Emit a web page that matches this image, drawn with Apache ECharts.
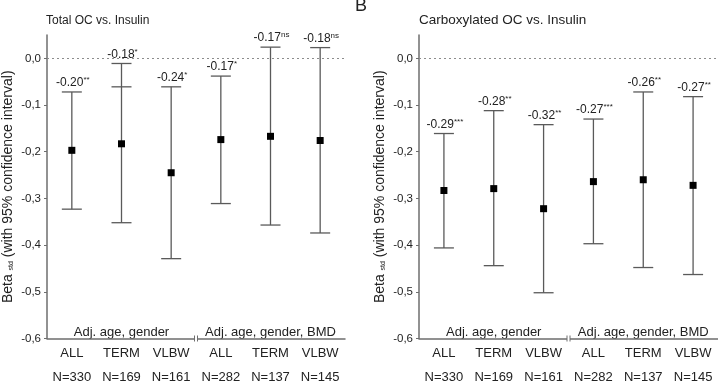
<!DOCTYPE html>
<html>
<head>
<meta charset="utf-8">
<script src="https://cdn.jsdelivr.net/npm/echarts@6/dist/echarts.min.js"></script>
<style>
  html, body { margin: 0; padding: 0; background: #fff; }
  #main { width: 718px; height: 384px; }
</style>
</head>
<body>
<div id="main"></div>
<script>
// categories on the x axis (same for both panels)
var categories = ['ALL', 'TERM', 'VLBW', 'ALL', 'TERM', 'VLBW'];
var sampleSizes = ['N=330', 'N=169', 'N=161', 'N=282', 'N=137', 'N=145'];
var groupLabels = ['Adj. age, gender', 'Adj. age, gender, BMD'];
var yTicks = [0, -0.1, -0.2, -0.3, -0.4, -0.5, -0.6];

// panel A: total OC vs. insulin
var totalBeta = [-0.197, -0.183, -0.245, -0.174, -0.167, -0.176];
var totalLow = [-0.323, -0.352, -0.429, -0.311, -0.357, -0.374];
var totalHigh = [-0.072, -0.011, -0.061, -0.038, 0.024, 0.023];
var totalExtraCap = [null, -0.061, null, null, null, null];
var totalText = ['-0.20', '-0.18', '-0.24', '-0.17', '-0.17', '-0.18'];
var totalSig = ['**', '*', '*', '*', 'ns', 'ns'];

// panel B: carboxylated OC vs. insulin
var carbBeta = [-0.283, -0.279, -0.322, -0.264, -0.260, -0.272];
var carbLow = [-0.406, -0.444, -0.502, -0.397, -0.448, -0.463];
var carbHigh = [-0.161, -0.112, -0.142, -0.130, -0.072, -0.082];
var carbExtraCap = [null, null, null, null, null, null];
var carbText = ['-0.29', '-0.28', '-0.32', '-0.27', '-0.26', '-0.27'];
var carbSig = ['***', '**', '**', '***', '**', '**'];

var FONT = '"Liberation Sans", Arial, sans-serif';
var TXT = '#222';
var AXIS = '#6e6e6e';
var BAR = '#5a5a5a';

var chart = echarts.init(document.getElementById('main'));

function errRender(texts, sigs, extra) {
  return function (params, api) {
    var i = params.dataIndex;
    var x = api.value(0);
    var lo = api.coord([x, api.value(1)]);
    var hi = api.coord([x, api.value(2)]);
    var hw = 10;
    var ls = { stroke: BAR, lineWidth: 1.3 };
    var kids = [
      { type: 'line', shape: { x1: lo[0], y1: lo[1], x2: hi[0], y2: hi[1] }, style: ls },
      { type: 'line', shape: { x1: lo[0] - hw, y1: lo[1], x2: lo[0] + hw, y2: lo[1] }, style: ls },
      { type: 'line', shape: { x1: hi[0] - hw, y1: hi[1], x2: hi[0] + hw, y2: hi[1] }, style: ls },
      {
        type: 'text',
        style: {
          text: '{v|' + texts[i] + '}{s|' + sigs[i] + '}',
          x: hi[0] + 1, y: hi[1] - 2,
          align: 'center', verticalAlign: 'bottom',
          rich: {
            v: { fontSize: 12, fontFamily: FONT, fill: TXT, lineHeight: 14 },
            s: { fontSize: 8, fontFamily: FONT, fill: TXT, verticalAlign: 'top', lineHeight: 9 }
          }
        }
      }
    ];
    if (extra[i] != null) {
      var e = api.coord([x, extra[i]]);
      kids.push({ type: 'line', shape: { x1: e[0] - hw, y1: e[1], x2: e[0] + hw, y2: e[1] }, style: ls });
    }
    return { type: 'group', children: kids };
  };
}

function xAxisFor(g) {
  return {
    type: 'category', gridIndex: g, data: categories,
    axisLine: { onZero: false, lineStyle: { color: AXIS, width: 1.5 } },
    axisTick: { show: false },
    axisLabel: {
      interval: 0, margin: 3, hideOverlap: false,
      formatter: function (v, i) { return '{c|' + v + '}\n{n|' + sampleSizes[i] + '}'; },
      rich: {
        c: { fontSize: 13, fontFamily: FONT, color: TXT, lineHeight: 24 },
        n: { fontSize: 13, fontFamily: FONT, color: TXT, lineHeight: 24 }
      }
    }
  };
}

function yAxisFor(g) {
  return {
    type: 'value', gridIndex: g, min: -0.6, max: 0.05, interval: 0.1,
    name: '{b|Beta }{s|std}{b| (with 95% confidence interval)}',
    nameLocation: 'middle', nameGap: 32,
    nameTextStyle: {
      rich: {
        b: { fontSize: 14, fontFamily: FONT, color: TXT },
        s: { fontSize: 7, fontFamily: FONT, color: TXT, verticalAlign: 'bottom' }
      }
    },
    splitLine: { show: false },
    axisLine: { show: true, lineStyle: { color: AXIS, width: 1.5 } },
    axisTick: { show: true, length: 3, customValues: yTicks, lineStyle: { color: AXIS } },
    axisLabel: {
      customValues: yTicks,
      fontSize: 11.5, fontFamily: FONT, color: TXT, margin: 6,
      formatter: function (v) { return v.toFixed(1).replace('.', ','); }
    }
  };
}

function panelSeries(g, beta, low, high, extra, texts, sigs) {
  return [
    {
      type: 'custom', xAxisIndex: g, yAxisIndex: g,
      renderItem: errRender(texts, sigs, extra),
      encode: { x: 0, y: [1, 2] },
      data: low.map(function (v, i) { return [i, v, high[i]]; }),
      z: 2
    },
    {
      type: 'scatter', xAxisIndex: g, yAxisIndex: g,
      symbol: 'rect', symbolSize: 7,
      itemStyle: { color: '#000', opacity: 1 },
      data: beta.map(function (v, i) { return [i, v]; }),
      markLine: {
        silent: true, symbol: 'none',
        label: { show: false },
        lineStyle: { type: [2, 3], color: '#8c8c8c', width: 1 },
        data: [{ yAxis: 0 }]
      },
      z: 3
    }
  ];
}

chart.setOption({
  animation: false,
  title: [
    { text: 'Total OC vs. Insulin', left: 46, top: 15, padding: 0,
      textStyle: { fontSize: 12, fontWeight: 'normal', fontFamily: FONT, color: TXT } },
    { text: 'Carboxylated OC vs. Insulin', left: 419, top: 13, padding: 0,
      textStyle: { fontSize: 13.5, fontWeight: 'normal', fontFamily: FONT, color: TXT } }
  ],
  grid: [
    { left: 46, right: 373, top: 35, bottom: 44 },
    { left: 419, right: 0, top: 35, bottom: 44 }
  ],
  xAxis: [xAxisFor(0), xAxisFor(1)],
  yAxis: [yAxisFor(0), yAxisFor(1)],
  series: panelSeries(0, totalBeta, totalLow, totalHigh, totalExtraCap, totalText, totalSig)
    .concat(panelSeries(1, carbBeta, carbLow, carbHigh, carbExtraCap, carbText, carbSig))
});

// group captions above the x axis and the axis break marks
var els = [{
  type: 'text', x: 355, y: -3,
  style: { text: 'B', fontSize: 18, fontFamily: FONT, fill: TXT }
}];
[0, 1].forEach(function (g) {
  [1, 4].forEach(function (ci, k) {
    var p = chart.convertToPixel({ gridIndex: g }, [ci, -0.6]);
    els.push({
      type: 'text', x: p[0], y: p[1],
      style: { text: groupLabels[k], fontSize: 13, fontFamily: FONT, fill: TXT,
        align: 'center', verticalAlign: 'bottom' }
    });
  });
  var a = chart.convertToPixel({ gridIndex: g }, [2, -0.6]);
  var b = chart.convertToPixel({ gridIndex: g }, [3, -0.6]);
  var mx = (a[0] + b[0]) / 2, y = a[1];
  els.push({ type: 'rect', shape: { x: mx - 1.5, y: y - 2, width: 3, height: 4 }, style: { fill: '#fff' }, z: 10 });
  els.push({ type: 'line', shape: { x1: mx - 1.5, y1: y - 3, x2: mx - 1.5, y2: y + 3 }, style: { stroke: AXIS, lineWidth: 1 }, z: 11 });
  els.push({ type: 'line', shape: { x1: mx + 1.5, y1: y - 3, x2: mx + 1.5, y2: y + 3 }, style: { stroke: AXIS, lineWidth: 1 }, z: 11 });
});
chart.setOption({ graphic: els });
</script>
</body>
</html>
